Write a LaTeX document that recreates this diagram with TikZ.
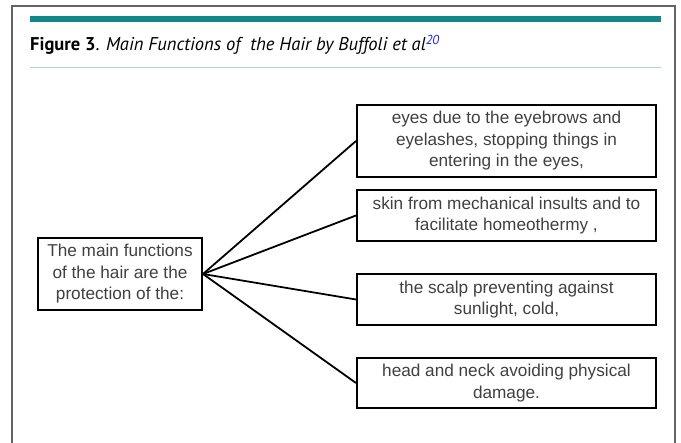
\documentclass[tikz,border=0pt]{standalone}
\usepackage{fontspec}
\setmainfont{Liberation Sans}
\newfontfamily\titlefont{PT Sans}
\definecolor{barteal}{RGB}{18,136,140}
\definecolor{rulecyan}{RGB}{170,212,218}
\definecolor{boxtext}{RGB}{64,64,64}
\definecolor{framegray}{RGB}{100,100,100}
\definecolor{citeblue}{RGB}{30,30,230}
\begin{document}
\begin{tikzpicture}[x=1pt, y=-1pt]
      \tikzset{
	  funcbox/.style={rectangle, draw=black, line width=2pt, minimum width=299pt, inner sep=2pt, align=center, text=boxtext, font=\fontsize{17.2}{21.5}\selectfont},
	  mainbox/.style={funcbox, minimum width=164pt, minimum height=72pt},
	  fanline/.style={black, line width=1.8pt}
      }

      \useasboundingbox (0,0) rectangle (681,443);
      \draw[framegray, line width=1.5pt] (12,443) -- (12,6) -- (675,6) -- (675,443);
      \fill[barteal] (30,16) rectangle (661,22);
      \draw[rulecyan, line width=1pt] (30,68) -- (661,68);
      \node[anchor=base west, inner sep=0pt, font=\titlefont\fontsize{18.5}{20}\selectfont] (title) at (30,51)
	    {\textbf{Figure 3}. \textit{Main Functions of \ the Hair by Buffoli et al\textsuperscript{\textcolor{citeblue}{20}}}};

      \node[mainbox] (main) at (120,274) {The main functions\\of the hair are the\\protection of the:};
      \node[funcbox, minimum height=72pt] (eyes) at (506.5,141) {eyes due to the eyebrows and\\eyelashes, stopping things in\\entering in the eyes,};
      \node[funcbox, minimum height=51pt] (skin) at (506.5,215.5) {skin from mechanical insults and to\\facilitate homeothermy ,};
      \node[funcbox, minimum height=51pt] (scalp) at (506.5,299.5) {the scalp preventing against\\sunlight, cold,};
      \node[funcbox, minimum height=50pt] (head) at (506.5,383) {head and neck avoiding physical\\damage.};

      \foreach \target in {eyes,skin,scalp,head}
	  \draw[fanline] (main.east) -- (\target.west);
\end{tikzpicture}
\end{document}
